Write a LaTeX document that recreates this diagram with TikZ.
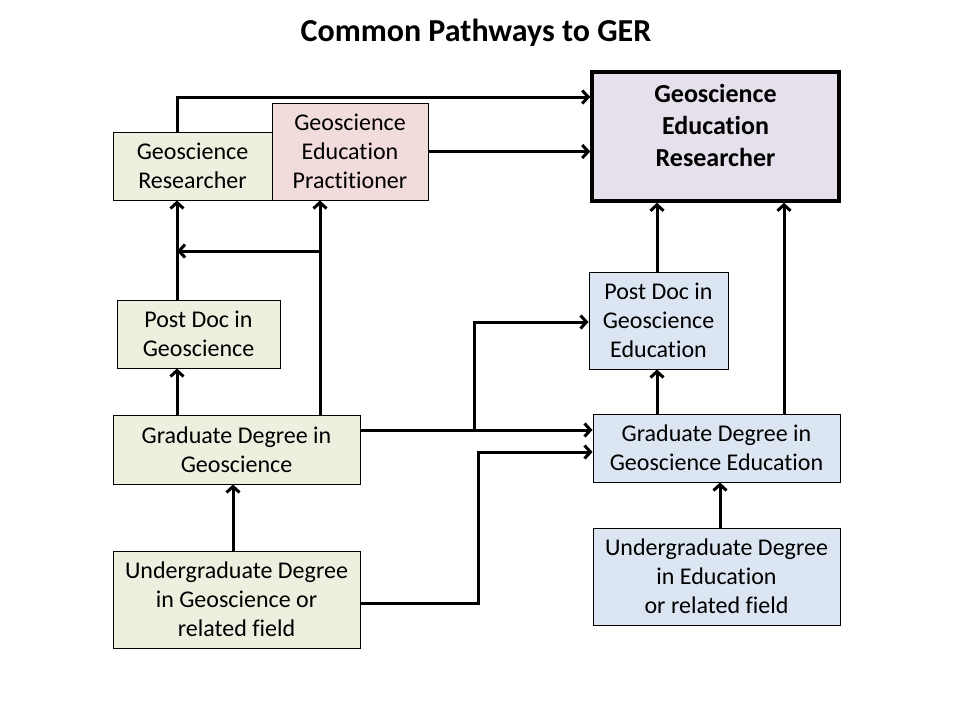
\documentclass[tikz,border=0pt]{standalone}
\usepackage{fontspec}
\setmainfont[Ligatures={NoCommon}]{Carlito}
\usetikzlibrary{arrows.meta}
\definecolor{boxgreen}{HTML}{EBF1DE}
\definecolor{boxpink}{HTML}{F2DCDB}
\definecolor{boxlav}{HTML}{E5E0EC}
\definecolor{boxblue}{HTML}{DCE6F2}
\tikzset{
  box/.style={draw=black, line width=0.9pt, align=center, inner sep=0pt,
    font=\fontsize{24}{29}\selectfont},
  arr/.style={line width=3pt, -{Straight Barb[length=6pt,width=13pt]}, line join=miter},
  plain/.style={line width=3pt}
}
\begin{document}
\begin{tikzpicture}[x=1pt,y=-1pt]
\useasboundingbox[fill=white] (0,0) rectangle (960,720);
\node[font=\fontsize{32}{38}\selectfont\bfseries] (title) at (476,33) {Common Pathways to GER};
% left column
\node[box, fill=boxgreen, minimum width=159, minimum height=68] (gr) at (192.5,166) {Geoscience\\Researcher};
\node[box, fill=boxpink, minimum width=156, minimum height=97] (gep) at (350,151.5) {Geoscience\\Education\\Practitioner};
\node[draw=black, line width=3.5pt, fill=boxlav, minimum width=247, minimum height=129, inner sep=0pt,
  label={[name=gert, align=center, yshift=11.5pt, font=\fontsize{26}{32}\selectfont\bfseries]center:Geoscience\\Education\\Researcher}] (ger) at (715.5,136.5) {};
\node[box, fill=boxgreen, minimum width=163, minimum height=68] (pd) at (198.5,334) {Post Doc in\\Geoscience};
\node[box, fill=boxgreen, minimum width=247, minimum height=69] (gg) at (236.5,449.5) {Graduate Degree in\\Geoscience};
\node[box, fill=boxgreen, minimum width=247, minimum height=97] (ug) at (236.5,599.5) {Undergraduate Degree\\in Geoscience or\\related field};
% right column
\node[box, fill=boxblue, minimum width=139, minimum height=97] (pde) at (658.5,320.5) {Post Doc in\\Geoscience\\Education};
\node[box, fill=boxblue, minimum width=247, minimum height=68] (gge) at (716.5,448) {Graduate Degree in\\Geoscience Education};
\node[box, fill=boxblue, minimum width=247, minimum height=97] (ued) at (716.5,576.5) {Undergraduate Degree\\in Education\\or related field};
% helper coordinates
\coordinate (t1) at (177,97);
\coordinate (t2) at (320,251);
\coordinate (t3) at (233,520);
\coordinate (t4) at (474,430);
\coordinate (t5) at (474,322);
\coordinate (t6) at (478,603);
\coordinate (t7) at (478,452);
\coordinate (t8) at (657,300);
\coordinate (t9) at (784,300);
\coordinate (t10) at (720,500);
% connectors
\draw[arr] (gr.north -| t1) -- (t1) -- (ger.west |- t1);
\draw[arr] (gep.east) -- (ger.west |- gep.east);
\draw[arr] (pd.north -| t1) -- (gr.south -| t1);
\draw[arr] (gg.north -| t1) -- (pd.south -| t1);
\draw[arr] (gg.north -| t2) -- (gep.south -| t2);
\draw[arr] (t2) -- (t1 |- t2);
\draw[arr] (ug.north -| t3) -- (gg.south -| t3);
\draw[arr] (gg.east |- t4) -- (gge.west |- t4);
\draw[arr] (t4) -- (t5) -- (pde.west |- t5);
\draw[arr] (ug.east |- t6) -- (t6) -- (t7) -- (gge.west |- t7);
\draw[arr] (gge.north -| t8) -- (pde.south -| t8);
\draw[arr] (pde.north -| t8) -- (ger.south -| t8);
\draw[arr] (gge.north -| t9) -- (ger.south -| t9);
\draw[arr] (ued.north -| t10) -- (gge.south -| t10);
\end{tikzpicture}
\end{document}
